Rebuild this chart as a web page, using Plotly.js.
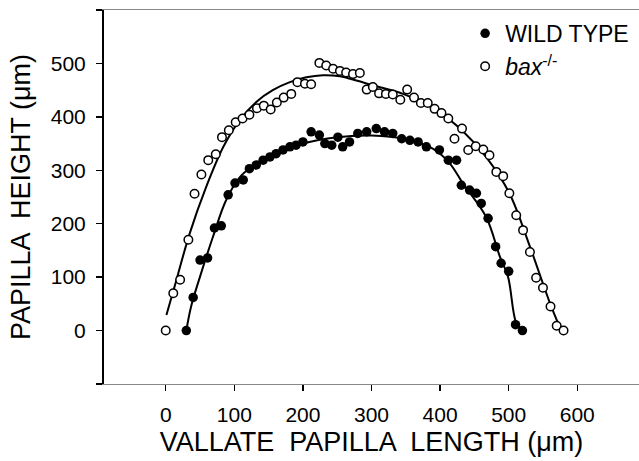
<!DOCTYPE html>
<html>
<head>
<meta charset="utf-8">
<script src="https://cdn.plot.ly/plotly-3.0.1.min.js"></script>
<style>html,body{margin:0;padding:0;background:#fff;}#chart{width:639px;height:461px;}</style>
</head>
<body>
<div id="chart"></div>
<script>
// WILD TYPE measured points
const wtX = [30,40,50,61,71,81,91,101,113,122,132,142,152,161,171,181,190,200,212,224,232,242,251,258,268,280,293,307,319,331,344,356,368,380,399,412,424,431,443,453,460,470,481,489,500,510,520];
const wtY = [0,62,132,136,192,196,254,276,282,303,310,319,325,331,338,344,347,353,372,366,350,347,362,344,353,369,372,378,372,369,359,356,353,344,338,319,319,272,263,257,238,210,157,126,111,11,0];
// bax-/- measured points
const baxX = [0,11,21,33,42,52,62,73,82,92,102,112,122,133,143,153,162,172,183,192,203,212,224,234,244,254,263,273,283,293,302,311,321,331,342,352,362,372,382,392,402,412,421,432,441,452,463,472,482,492,501,511,521,531,540,550,561,570,580];
const baxY = [0,70,95,170,256,292,319,330,362,375,390,397,404,416,421,414,427,436,443,465,462,461,501,496,490,486,483,480,482,451,456,444,443,442,432,451,436,426,426,415,407,397,359,378,338,345,339,328,297,289,257,216,188,147,99,80,45,9,0];
// fitted curves
const wtFitX = [30,37,50,69,88,110,150,200,250,300,350,390,414,433,467,487,499,511,520];
const wtFitY = [0,45,101,176,244,290,325,350,362,365,358,340,313,276,213,139,101,14,0];
const baxFitX = [1,13,35,59,84,108,132,156,181,205,229,254,278,302,346,395,434,467,501,531,560,574];
const baxFitY = [29,83,182,269,344,394,428,450,465,474,478,476,468,459,443,412,372,325,257,157,52,8];

const xTicks = [0,100,200,300,400,500,600];
const yTicks = [0,100,200,300,400,500];
const yEndTicks = [-100,600];

const FONT = 'Liberation Sans, Arial, Helvetica, sans-serif';

const traces = [
  {x: wtFitX, y: wtFitY, mode: 'lines', line: {color: '#000', width: 2, shape: 'spline'}, showlegend: false, hoverinfo: 'skip'},
  {x: baxFitX, y: baxFitY, mode: 'lines', line: {color: '#000', width: 2, shape: 'spline'}, showlegend: false, hoverinfo: 'skip'},
  {x: wtX, y: wtY, mode: 'markers', name: 'WILD TYPE',
   marker: {symbol: 'circle', size: 9.5, color: '#000', line: {color: '#000', width: 0}}},
  {x: baxX, y: baxY, mode: 'markers', name: '<i>bax</i><sup>-/-</sup>',
   marker: {symbol: 'circle', size: 8.5, color: '#fff', line: {color: '#000', width: 1.5}}}
];

const layout = {
  width: 639, height: 461,
  margin: {l: 104, r: 0, t: 10, b: 77},
  paper_bgcolor: '#fff', plot_bgcolor: '#fff',
  font: {family: FONT, color: '#000', size: 21},
  showlegend: true,
  legend: {x: 0.675, y: 0.995, xanchor: 'left', yanchor: 'top', bgcolor: 'rgba(0,0,0,0)',
           font: {family: FONT, size: 23, color: '#000'}, tracegroupgap: 0},
  xaxis: {
    range: [-90, 690], showgrid: false, zeroline: false,
    showline: true, linecolor: '#888', linewidth: 1, mirror: true,
    ticks: 'outside', ticklen: 6, tickwidth: 1.5, tickcolor: '#000',
    tickmode: 'array', tickvals: xTicks, ticktext: xTicks.map(String), ticklabelstandoff: 6,
    tickfont: {family: FONT, size: 21, color: '#000'},
    title: {text: 'VALLATE  PAPILLA  LENGTH (μm)', font: {family: FONT, size: 27, color: '#000'}, standoff: 6}
  },
  yaxis: {
    range: [-100, 600], showgrid: false, zeroline: false,
    showline: true, linecolor: '#000', linewidth: 2,
    ticks: 'outside', ticklen: 6, tickwidth: 1.5, tickcolor: '#000',
    tickmode: 'array', tickvals: yTicks, ticktext: yTicks.map(String), ticklabelstandoff: 6,
    minor: {tickmode: 'array', tickvals: yEndTicks, ticks: 'outside', ticklen: 6, tickwidth: 1.5, tickcolor: '#000', showgrid: false},
    tickfont: {family: FONT, size: 21, color: '#000'},
    title: {text: 'PAPILLA  HEIGHT (μm)', font: {family: FONT, size: 27, color: '#000'}, standoff: 12}
  }
};

Plotly.newPlot('chart', traces, layout, {displayModeBar: false, staticPlot: true});
</script>
</body>
</html>
